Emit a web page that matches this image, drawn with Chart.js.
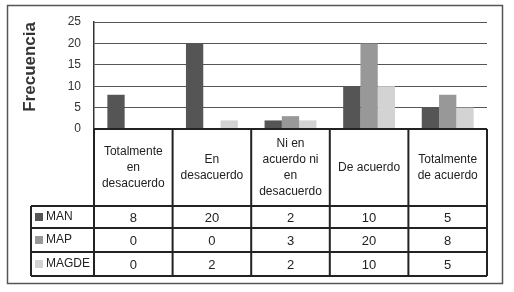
<!DOCTYPE html>
<html>
<head>
<meta charset="utf-8">
<script src="https://cdn.jsdelivr.net/npm/chart.js@4"></script>
<style>
  html, body { margin: 0; padding: 0; background: #fff; }
  canvas { display: block; }
</style>
</head>
<body>
<canvas id="barChart" width="514" height="292"></canvas>
<script>
'use strict';

// datos
const categories = [
  ['Totalmente', 'en', 'desacuerdo'],
  ['En', 'desacuerdo'],
  ['Ni en', 'acuerdo ni', 'en', 'desacuerdo'],
  ['De acuerdo'],
  ['Totalmente', 'de acuerdo']
];
const seriesNames = ['MAN', 'MAP', 'MAGDE'];
const manData = [8, 20, 2, 10, 5];
const mapData = [0, 0, 3, 20, 8];
const magdeData = [0, 2, 2, 10, 5];
const yMax = 25;
const yStep = 5;
const yTitle = 'Frecuencia';

const FONT = '"Liberation Sans", Arial, sans-serif';

// tabla de datos debajo del grafico
const dataTable = {
  id: 'dataTable',
  afterDraw(chart) {
    const ctx = chart.ctx;
    const area = chart.chartArea;
    const xs = chart.scales.x;
    const n = chart.data.labels.length;
    const catW = (area.right - area.left) / n;
    const edges = [];
    for (let i = 0; i <= n; i++) edges.push(area.left + catW * i);
    const labelLeft = 31;
    const top = area.bottom;
    const rows = [top + 77, top + 99, top + 123, top + 147];

    ctx.save();
    // marco exterior
    ctx.strokeStyle = '#555';
    ctx.lineWidth = 1.5;
    ctx.strokeRect(7.5, 5.5, 495, 278);

    ctx.strokeStyle = '#222';
    ctx.lineWidth = 2;
    ctx.beginPath();
    ctx.moveTo(area.left, top); ctx.lineTo(edges[n], top);
    rows.forEach(function(y) { ctx.moveTo(labelLeft, y); ctx.lineTo(edges[n], y); });
    edges.forEach(function(x) { ctx.moveTo(x, top); ctx.lineTo(x, rows[3]); });
    ctx.moveTo(labelLeft, rows[0]); ctx.lineTo(labelLeft, rows[3]);
    ctx.stroke();

    // encabezados
    ctx.fillStyle = '#222';
    ctx.textAlign = 'center';
    ctx.textBaseline = 'middle';
    ctx.font = '12px ' + FONT;
    chart.data.labels.forEach(function(lab, i) {
      const lines = Array.isArray(lab) ? lab : [lab];
      const cx = xs.getPixelForValue(i);
      const cy = (top + rows[0]) / 2;
      const lh = 16;
      lines.forEach(function(t, k) {
        ctx.fillText(t, cx, cy + (k - (lines.length - 1) / 2) * lh);
      });
    });

    // filas
    chart.data.datasets.forEach(function(ds, r) {
      const cy = (rows[r] + rows[r + 1]) / 2;
      ctx.fillStyle = ds.backgroundColor;
      ctx.fillRect(35, cy - 4, 8, 8);
      ctx.fillStyle = '#222';
      ctx.textAlign = 'left';
      ctx.font = '12px ' + FONT;
      ctx.fillText(ds.label, 46, cy);
      ctx.textAlign = 'center';
      ctx.font = '13px ' + FONT;
      ds.data.forEach(function(v, i) {
        ctx.fillText(String(v), xs.getPixelForValue(i), cy + 1);
      });
    });
    ctx.restore();
  }
};

const context = document.querySelector('#barChart').getContext('2d');
new Chart(context, {
  type: 'bar',
  data: {
    labels: categories,
    datasets: [
      { label: seriesNames[0], data: manData, backgroundColor: '#555555' },
      { label: seriesNames[1], data: mapData, backgroundColor: '#989898' },
      { label: seriesNames[2], data: magdeData, backgroundColor: '#d3d3d3' }
    ]
  },
  options: {
    responsive: false,
    animation: false,
    devicePixelRatio: 1,
    borderWidth: 0,
    categoryPercentage: 0.66,
    barPercentage: 1,
    layout: { padding: { left: 0, top: 22, right: 27, bottom: 163 } },
    plugins: {
      legend: { display: false },
      tooltip: { enabled: false }
    },
    scales: {
      x: { display: false },
      y: {
        min: 0,
        max: yMax,
        afterFit: function(s) { s.width = 94; },
        ticks: {
          stepSize: yStep,
          padding: 13,
          color: '#333',
          font: { size: 12, family: FONT }
        },
        grid: { color: '#555', lineWidth: 1, drawTicks: false },
        border: { color: '#333', width: 1.5 },
        title: {
          display: true,
          text: yTitle,
          align: 'end',
          color: '#333',
          padding: { top: 20, bottom: 0 },
          font: { size: 17, weight: 'bold', family: FONT }
        }
      }
    }
  },
  plugins: [dataTable]
});
</script>
</body>
</html>
